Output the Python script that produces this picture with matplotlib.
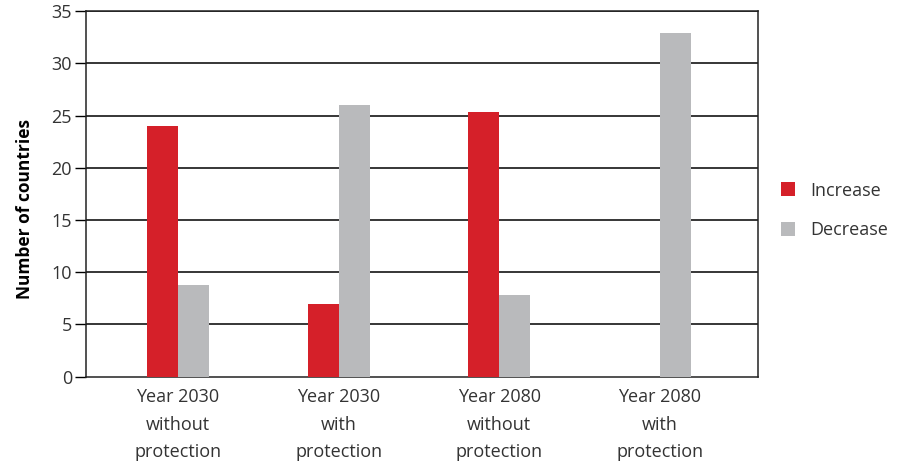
import numpy as np
import matplotlib
matplotlib.use("Agg")
import matplotlib.pyplot as plt

plt.rcParams['font.family'] = ['Open Sans', 'DejaVu Sans']

# data
categories = ["Year 2030\nwithout\nprotection", "Year 2030\nwith\nprotection",
              "Year 2080\nwithout\nprotection", "Year 2080\nwith\nprotection"]
increase = [24, 7, 25.3, 0]
decrease = [8.8, 26, 7.8, 32.9]
yticks = [0, 5, 10, 15, 20, 25, 30, 35]

red = "#d52029"
grey = "#b9babc"
text_col = "#333333"

fig = plt.figure(figsize=(8.99, 4.63), dpi=100)
ax = fig.add_axes([86 / 899, 1 - 376.7 / 463, 672 / 899, 365.5 / 463])

x = np.arange(len(categories))
w = 0.193
ax.bar(x - w / 2, increase, w, color=red, label="Increase", zorder=3)
ax.bar(x + w / 2, decrease, w, color=grey, label="Decrease", zorder=3)

ax.set_ylim(0, 35)
ax.set_xlim(-0.572, 3.61)
ax.set_yticks(yticks)
for t in yticks[1:]:
    ax.axhline(t, color="black", lw=1.1, zorder=1)

ax.set_xticks(x)
ax.set_xticklabels(categories, linespacing=1.7, fontsize=13, color=text_col)
ax.tick_params(axis="x", length=0, pad=8)
ax.tick_params(axis="y", length=8, width=1, labelsize=13, labelcolor=text_col, pad=2)
for s in ax.spines.values():
    s.set_color("#222222")
    s.set_linewidth(1.1)

ax.set_ylabel("Number of countries", fontsize=12.5, fontweight="bold",
              color="black")
ax.yaxis.set_label_coords(-0.078, 0.46)

ax.legend(loc="center left", bbox_to_anchor=(1.01, 0.455), frameon=False,
          fontsize=13, handlelength=0.8, handleheight=0.8, labelspacing=1.2,
          labelcolor=text_col)

fig.savefig("out.png", dpi=100)
